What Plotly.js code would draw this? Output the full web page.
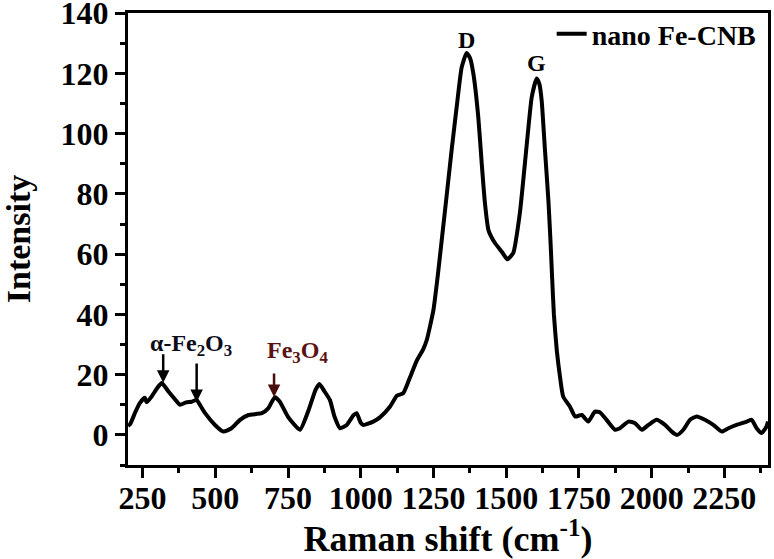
<!DOCTYPE html>
<html>
<head>
<meta charset="utf-8">
<script src="https://cdn.plot.ly/plotly-3.0.1.min.js"></script>
<style>html,body{margin:0;padding:0;background:#fff;}#chart{width:774px;height:559px;}</style>
</head>
<body>
<div id="chart"></div>
<script>
// Raman spectrum of nano Fe-CNB
const ramanShift = [200,207,225,241,258,264,281,300,316,339,360,379,400,419,436,450,465,499,528,556,585,614,660,682,705,722,750,791,820,845,858,875,894,910,929,952,975,986,1000,1009,1043,1066,1101,1124,1146,1169,1192,1215,1227,1250,1265,1280,1296,1313,1330,1347,1364,1376,1387,1404,1416,1427,1439,1462,1485,1504,1524,1547,1570,1588,1605,1614,1622,1633,1645,1652,1658,1664,1674,1685,1696,1719,1737,1760,1782,1805,1822,1845,1874,1891,1920,1943,1966,1989,2017,2046,2069,2088,2109,2132,2155,2183,2212,2241,2264,2292,2327,2344,2361,2378,2395,2400];
const intensity = [3.0,3.5,7.5,10.6,12.3,10.8,12.7,15.5,17.2,14.4,12,10,10.8,11,11.6,9.5,7.2,3.3,1.1,2.2,5,6.6,7.2,8.8,12.5,11,6,1.7,8,15,16.9,14.5,11.6,6,2.2,3.3,6.5,7.2,4,3.3,4.4,5.8,9.4,13,13.8,19,24.5,28.5,31.5,41.5,53,66,80,95,109,122,126.8,125,120,105.6,90,76.9,68,63.6,60.8,58.3,60.3,73.6,95.7,112.2,118.3,116.5,111,95,78,65,52,40,28,19.3,12.7,9.4,6.1,6.6,4.4,7.7,7.5,5,1.7,2.2,4.4,3.9,1.7,3.3,5,3.3,1.1,0,1.7,5,6.1,5,3.3,1.1,2.2,3.3,4.4,5,2.2,0.6,2.8,4.4];
const seriesName = 'nano Fe-CNB';

// peak labels
const peakLabels = ['D', 'G'];
const peakX = [1364, 1605];
const peakY = [131, 123.4];

// phase labels and arrow targets
const phaseLabels = ['α-Fe<sub>2</sub>O<sub>3</sub>', 'Fe<sub>3</sub>O<sub>4</sub>'];
const phaseX = [417, 784];
const phaseY = [30, 27.5];
const arrowX = [321, 436, 702];
const arrowY = [17.3, 10.9, 12.6];
const arrowLen = [-30, -40, -25];
const arrowColor = ['#000000', '#000000', '#4a0d0d'];
const phaseColor = ['#0d0d1a', '#5a1212'];

const xTicks = [250,500,750,1000,1250,1500,1750,2000,2250];
const yTicks = [0,20,40,60,80,100,120,140];

const FONT = '"Liberation Serif", "Times New Roman", Times, serif';

const annotations = [];
peakLabels.forEach((t, i) => annotations.push({
  x: peakX[i], y: peakY[i], xref: 'x', yref: 'y', text: '<b>' + t + '</b>',
  showarrow: false, font: {family: FONT, size: 24, color: '#000'}, xanchor: 'center', yanchor: 'middle'
}));
phaseLabels.forEach((t, i) => annotations.push({
  x: phaseX[i], y: phaseY[i], xref: 'x', yref: 'y', text: '<b>' + t + '</b>',
  showarrow: false, font: {family: FONT, size: 24, color: phaseColor[i]}, xanchor: 'center', yanchor: 'middle'
}));
arrowX.forEach((x, i) => annotations.push({
  x: x, y: arrowY[i], xref: 'x', yref: 'y', text: '', showarrow: true,
  ax: 0, ay: arrowLen[i], arrowhead: 2, arrowsize: 1, arrowwidth: 2.5, arrowcolor: arrowColor[i], standoff: 0
}));

const data = [{
  x: ramanShift, y: intensity, type: 'scatter', mode: 'lines', name: seriesName,
  line: {color: '#000', width: 4, shape: 'spline', smoothing: 0.5}
}];

const axisCommon = {
  showline: true, linecolor: '#000', linewidth: 3, mirror: true,
  ticks: 'outside', ticklen: 10, tickwidth: 3, tickcolor: '#000',
  showgrid: false, zeroline: false, ticklabeloverflow: 'allow',
  tickfont: {family: FONT, size: 32, color: '#000', weight: 'bold'}
};

const layout = {
  width: 774, height: 559,
  margin: {l: 128, r: 6, t: 13, b: 94},
  paper_bgcolor: '#fff', plot_bgcolor: '#fff',
  showlegend: true,
  legend: {x: 0.662, y: 0.9535, xanchor: 'left', yanchor: 'middle', bgcolor: 'rgba(0,0,0,0)',
           font: {family: FONT, size: 28, color: '#000', weight: 'bold'}},
  xaxis: Object.assign({}, axisCommon, {
    range: [200, 2400], tickmode: 'array', tickvals: xTicks,
    ticktext: xTicks.map(v => '<b>' + v + '</b>'),
    ticklabelstandoff: -7,
    minor: {dtick: 125, tick0: 250, ticks: 'outside', ticklen: 5, tickwidth: 3, tickcolor: '#000', showgrid: false},
    title: {text: '<b>Raman shift (cm<sup>-1</sup>)</b>', font: {family: FONT, size: 36, color: '#000'}, standoff: 31}
  }),
  yaxis: Object.assign({}, axisCommon, {
    range: [-10, 140.05], tickmode: 'array', tickvals: yTicks,
    ticktext: yTicks.map(v => '<b>' + v + '</b>'),
    minor: {dtick: 10, tick0: 0, ticks: 'outside', ticklen: 5, tickwidth: 3, tickcolor: '#000', showgrid: false},
    title: {text: '<b>Intensity</b>', font: {family: FONT, size: 34, color: '#000'}, standoff: 24}
  }),
  annotations: annotations
};

Plotly.newPlot('chart', data, layout, {displayModeBar: false, staticPlot: true});
</script>
</body>
</html>
